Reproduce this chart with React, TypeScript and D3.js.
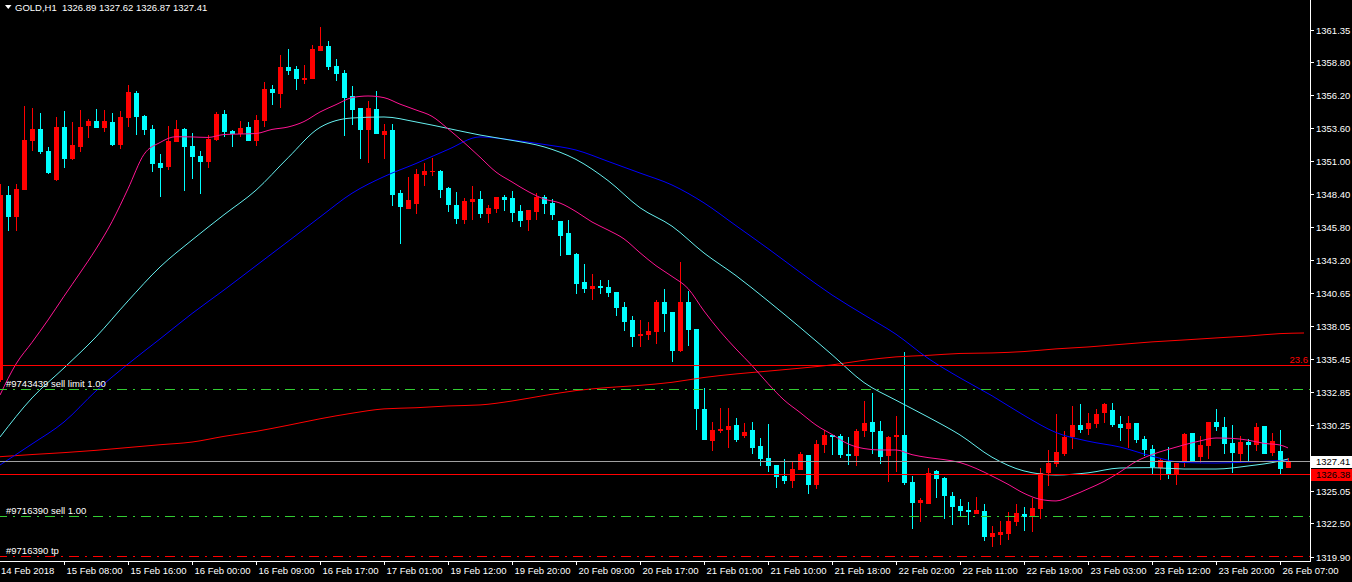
import React, { useEffect, useRef } from 'react';
import * as d3 from 'd3';

const W = 1352;
const H = 582;

// OHLC per H1 bar (bar 0 = leftmost visible)
const opens = [1333.78,1348.33,1346.63,1348.73,1352.60,1353.52,1351.79,1349.54,1353.68,1351.19,1352.13,1353.78,1354.15,1353.63,1354.08,1352.27,1354.39,1356.36,1354.55,1353.52,1350.85,1350.54,1352.50,1353.52,1352.19,1351.40,1350.93,1352.66,1354.70,1353.37,1353.13,1353.68,1352.58,1354.15,1356.67,1356.28,1358.40,1358.24,1357.38,1357.46,1359.66,1360.05,1358.48,1357.93,1356.12,1355.18,1353.45,1355.10,1353.05,1353.45,1348.49,1347.23,1347.63,1349.91,1350.14,1350.22,1348.88,1347.55,1346.37,1347.78,1348.02,1346.84,1347.23,1348.18,1348.10,1347.08,1346.37,1347.00,1348.18,1347.70,1346.29,1345.35,1343.69,1341.49,1340.94,1341.18,1341.10,1340.70,1339.52,1338.50,1337.24,1337.32,1337.56,1339.92,1339.13,1336.06,1339.92,1337.79,1331.50,1328.99,1329.77,1329.85,1330.24,1329.38,1329.85,1328.59,1327.65,1327.10,1326.23,1325.84,1326.70,1327.88,1325.53,1328.67,1329.46,1329.38,1327.96,1327.81,1329.77,1330.48,1329.77,1327.81,1329.30,1329.46,1325.76,1324.11,1324.03,1326.63,1326.08,1324.66,1323.87,1323.56,1323.24,1323.48,1321.44,1321.59,1321.67,1322.61,1323.24,1323.01,1323.64,1326.47,1327.18,1327.96,1329.30,1330.24,1329.93,1330.32,1331.19,1331.42,1330.32,1329.93,1330.40,1329.14,1328.36,1326.86,1327.41,1326.39,1327.33,1329.61,1327.73,1328.59,1330.48,1330.09,1328.83,1327.96,1328.91,1328.67,1330.17,1328.04,1328.20,1326.89];
const highs = [1349.20,1349.07,1349.20,1355.33,1355.18,1354.78,1352.11,1354.47,1354.94,1354.08,1355.02,1354.31,1355.10,1355.02,1354.78,1354.94,1356.99,1356.51,1354.63,1353.84,1351.56,1353.76,1354.23,1353.60,1353.21,1351.79,1353.05,1354.86,1355.02,1353.45,1354.15,1354.08,1354.63,1357.22,1356.99,1359.34,1359.82,1358.48,1358.56,1360.13,1361.55,1360.45,1359.03,1358.16,1356.91,1355.20,1355.73,1356.51,1353.92,1353.92,1348.73,1349.75,1350.38,1350.85,1351.24,1350.30,1348.96,1348.57,1348.10,1349.04,1348.65,1347.55,1348.20,1348.33,1348.65,1347.55,1347.17,1348.49,1348.33,1348.02,1346.31,1346.37,1343.77,1342.91,1342.12,1341.65,1341.65,1340.72,1339.92,1338.82,1338.50,1338.35,1340.08,1340.94,1339.15,1343.06,1340.78,1337.80,1333.15,1330.48,1331.58,1331.58,1330.79,1330.40,1330.48,1329.22,1330.32,1327.12,1327.57,1327.41,1328.12,1327.90,1329.06,1329.85,1329.48,1329.54,1329.30,1329.93,1332.13,1332.76,1330.56,1329.38,1330.95,1335.99,1326.23,1324.50,1326.86,1326.70,1326.15,1324.97,1324.42,1324.19,1324.58,1324.03,1322.30,1322.69,1323.40,1324.03,1323.79,1324.50,1326.86,1328.28,1331.11,1329.77,1331.74,1331.90,1331.19,1331.50,1331.98,1331.98,1330.95,1330.95,1330.42,1329.38,1328.67,1327.65,1328.51,1327.27,1329.61,1329.63,1329.38,1330.50,1331.50,1330.87,1330.24,1329.38,1329.14,1330.40,1330.19,1329.61,1329.85,1327.62];
const lows = [1333.63,1345.53,1345.53,1348.70,1351.82,1351.53,1349.99,1349.46,1350.48,1351.09,1351.74,1352.84,1353.60,1353.31,1352.19,1351.98,1353.68,1353.05,1353.05,1350.14,1348.20,1350.30,1352.48,1348.65,1349.59,1348.41,1350.46,1352.58,1352.90,1352.11,1352.90,1352.55,1352.19,1353.68,1355.41,1355.18,1357.77,1356.59,1357.06,1357.44,1359.64,1358.16,1357.30,1352.97,1353.84,1351.16,1350.85,1353.10,1351.16,1347.47,1344.48,1347.20,1346.84,1349.04,1349.83,1348.10,1347.00,1346.05,1346.05,1346.37,1346.52,1346.13,1346.92,1347.08,1346.21,1345.82,1345.50,1346.37,1346.84,1346.37,1343.54,1343.59,1340.55,1340.63,1340.08,1340.55,1340.31,1338.82,1337.64,1336.38,1336.38,1336.93,1336.61,1337.56,1335.20,1335.99,1336.46,1329.85,1329.05,1328.20,1329.61,1328.43,1328.91,1329.22,1327.96,1327.02,1326.55,1325.29,1325.60,1325.29,1326.68,1324.82,1325.21,1328.04,1327.88,1327.65,1327.10,1327.02,1329.30,1327.96,1327.18,1325.76,1326.55,1325.53,1322.06,1322.61,1324.01,1324.50,1322.85,1322.38,1323.09,1322.38,1323.22,1321.12,1320.65,1320.81,1321.20,1322.30,1321.91,1321.83,1322.85,1325.45,1326.94,1327.81,1328.36,1329.61,1329.46,1330.01,1330.40,1330.09,1328.99,1328.43,1328.83,1327.81,1326.39,1325.92,1326.00,1325.53,1326.94,1327.31,1327.25,1327.57,1329.77,1327.96,1326.47,1327.25,1327.33,1328.20,1327.94,1327.81,1326.39,1326.87];
const closes = [1348.33,1346.63,1348.81,1352.66,1353.52,1351.74,1350.09,1353.68,1351.19,1352.27,1353.68,1354.15,1353.63,1354.15,1352.27,1354.47,1356.43,1354.47,1353.45,1350.77,1350.46,1352.58,1353.52,1352.11,1351.32,1350.93,1352.74,1354.70,1353.29,1353.13,1353.60,1352.58,1354.23,1356.67,1356.36,1358.40,1358.09,1357.46,1357.54,1359.82,1360.05,1358.40,1357.85,1355.96,1355.02,1353.45,1355.18,1353.13,1353.39,1348.33,1347.39,1347.94,1349.99,1350.22,1350.22,1348.73,1347.55,1346.45,1347.86,1348.02,1346.84,1347.31,1348.18,1347.94,1346.92,1346.29,1347.15,1348.18,1347.63,1346.76,1345.11,1343.61,1341.33,1340.94,1341.18,1341.02,1340.63,1339.45,1338.35,1337.17,1337.40,1337.64,1339.92,1338.97,1336.06,1339.92,1337.72,1331.50,1329.06,1329.85,1329.93,1330.17,1329.06,1329.69,1328.43,1327.57,1327.02,1326.15,1325.84,1326.78,1327.96,1325.53,1328.75,1329.46,1329.30,1327.88,1327.81,1329.77,1330.40,1329.69,1327.73,1329.30,1329.46,1325.68,1324.11,1324.35,1326.47,1326.00,1324.66,1323.79,1323.48,1323.40,1323.56,1321.44,1321.75,1321.83,1322.69,1323.32,1323.01,1323.72,1326.47,1327.25,1328.12,1329.30,1330.24,1329.85,1330.40,1331.11,1331.90,1330.24,1330.01,1330.40,1329.06,1328.28,1326.94,1327.49,1326.39,1327.25,1329.54,1327.33,1328.67,1330.48,1330.09,1328.75,1328.04,1328.91,1328.67,1330.09,1327.96,1328.99,1326.78,1327.41];

// Moving averages (sampled): fast every 2 bars, others every 4 bars
const maFast = [1332.60,1335.04,1336.74,1338.50,1340.37,1342.20,1344.09,1346.23,1348.82,1351.53,1352.46,1352.92,1352.90,1352.86,1353.09,1353.13,1353.17,1353.49,1353.68,1354.11,1354.86,1355.44,1355.99,1356.12,1355.99,1355.48,1355.02,1354.52,1353.54,1352.46,1351.31,1350.14,1349.36,1348.61,1348.02,1347.70,1347.03,1346.21,1345.58,1344.88,1343.79,1342.77,1341.93,1340.98,1339.21,1337.62,1336.22,1334.92,1333.50,1332.21,1331.23,1330.24,1329.50,1328.76,1328.39,1328.28,1328.28,1327.91,1327.68,1327.52,1327.29,1326.83,1326.23,1325.58,1324.87,1324.40,1324.27,1324.68,1325.22,1325.80,1326.55,1327.37,1327.92,1328.32,1328.68,1328.99,1329.22,1329.19,1329.05,1328.80,1328.67,1328.44];
const maMid = [1329.30,1332.37,1334.73,1337.17,1340.00,1342.67,1344.79,1346.78,1348.71,1351.26,1353.65,1354.39,1354.47,1354.08,1353.57,1353.05,1352.63,1352.12,1351.13,1349.47,1347.33,1345.88,1343.77,1341.99,1340.00,1337.92,1335.77,1333.58,1332.19,1330.87,1329.46,1327.71,1326.63,1326.31,1326.48,1326.86,1326.89,1326.78,1326.78,1327.02,1327.41,1327.57];
const maSlow = [1327.10,1328.75,1330.48,1332.92,1335.04,1337.01,1339.01,1340.86,1342.77,1344.68,1346.60,1348.47,1349.78,1350.81,1351.91,1352.90,1352.66,1352.31,1351.87,1350.98,1350.06,1349.12,1347.71,1345.92,1344.12,1342.26,1340.47,1338.91,1337.38,1335.49,1333.95,1332.54,1331.00,1329.65,1328.97,1328.51,1327.79,1327.29,1327.25,1327.33,1327.45,1327.49];
const maLong = [1327.75,1327.92,1328.07,1328.25,1328.47,1328.69,1328.90,1329.35,1329.74,1330.22,1330.73,1331.17,1331.51,1331.60,1331.74,1331.82,1332.13,1332.56,1332.95,1333.19,1333.36,1333.60,1333.98,1334.26,1334.48,1334.71,1334.97,1335.33,1335.60,1335.72,1335.87,1335.91,1336.02,1336.23,1336.38,1336.58,1336.78,1336.93,1337.09,1337.24,1337.43,1337.48];

const timeLabels = ["14 Feb 2018","15 Feb 08:00","15 Feb 16:00","16 Feb 00:00","16 Feb 09:00","16 Feb 17:00","17 Feb 01:00","19 Feb 12:00","19 Feb 20:00","20 Feb 09:00","20 Feb 17:00","21 Feb 01:00","21 Feb 10:00","21 Feb 18:00","22 Feb 02:00","22 Feb 11:00","22 Feb 19:00","23 Feb 03:00","23 Feb 12:00","23 Feb 20:00","26 Feb 07:00"];
const priceTicks = [1361.35,1358.80,1356.20,1353.60,1351.00,1348.40,1345.80,1343.20,1340.65,1338.05,1335.45,1332.85,1330.25,1325.05,1322.50,1319.90];

const header = "GOLD,H1  1326.89 1327.62 1326.87 1327.41";
const bidPrice = 1327.41;
const redLevel = 1326.38;
const fibLevel = 1334.96;
const fibLabel = "23.6";
const orderLines = [
  { price: 1333.05, label: "#9743439 sell limit 1.00", color: "#32CD32" },
  { price: 1323.09, label: "#9716390 sell 1.00", color: "#32CD32" },
  { price: 1319.94, label: "#9716390 tp", color: "#FF0000" },
];

const FONT = "'Liberation Sans', Arial, sans-serif";

export default function App() {
  const ref = useRef<SVGSVGElement>(null);
  useEffect(() => {
    const svg = d3.select(ref.current);
    svg.selectAll('*').remove();
    const plotR = 1310;
    const plotB = 561;
    const x = d3.scaleLinear().domain([0, 161]).range([0, 1288]);
    const y = d3.scaleLinear().domain([1319.90, 1361.35]).range([556.5, 29.5]);

    svg.append('rect').attr('width', W).attr('height', H).attr('fill', '#000');
    const defs = svg.append('defs');
    defs.append('clipPath').attr('id', 'plotclip').append('rect')
      .attr('x', 0).attr('y', 0).attr('width', plotR).attr('height', plotB);
    const plot = svg.append('g').attr('clip-path', 'url(#plotclip)');

    // candles
    const bars = d3.range(opens.length);
    const cg = plot.append('g').attr('shape-rendering', 'crispEdges');
    bars.forEach((i) => {
      const o = opens[i], h = highs[i], l = lows[i], c = closes[i];
      const col = c >= o ? '#FF0000' : '#00FFFF';
      const cx = Math.round(x(i));
      const yh = Math.round(y(h)), yl = Math.round(y(l));
      cg.append('rect').attr('x', cx).attr('y', yh).attr('width', 1)
        .attr('height', Math.max(1, yl - yh)).attr('fill', col);
      const yt = Math.round(y(Math.max(o, c))), yb = Math.round(y(Math.min(o, c)));
      cg.append('rect').attr('x', cx - 2).attr('y', yt).attr('width', 5)
        .attr('height', Math.max(1, yb - yt)).attr('fill', col);
    });

    // moving averages
    const drawMA = (vals: number[], idx: number[], color: string) => {
      const line = d3.line<number>().x((_, j) => x(idx[j])).y((v) => y(v)).curve(d3.curveMonotoneX);
      plot.append('path').attr('d', line(vals) as string).attr('fill', 'none')
        .attr('stroke', color).attr('stroke-width', 1);
    };
    const idx2 = d3.range(0, 161, 2).concat([161]);
    const idx4 = d3.range(0, 161, 4).concat([161]);
    const idx4L = d3.range(0, 161, 4).concat([163]);
    drawMA(maLong, idx4L, '#FF0000');
    drawMA(maSlow, idx4, '#0000FF');
    drawMA(maMid, idx4, '#66F0F0');
    drawMA(maFast, idx2, '#FF1493');

    // horizontal levels
    const hy = (p: number) => Math.round(y(p)) + 0.5;
    plot.append('line').attr('x1', 0).attr('x2', plotR).attr('y1', hy(fibLevel)).attr('y2', hy(fibLevel))
      .attr('stroke', '#FF0000');
    plot.append('line').attr('x1', 0).attr('x2', plotR).attr('y1', hy(bidPrice)).attr('y2', hy(bidPrice))
      .attr('stroke', '#A0A0A0');
    plot.append('line').attr('x1', 0).attr('x2', plotR).attr('y1', hy(redLevel)).attr('y2', hy(redLevel))
      .attr('stroke', '#FF0000');
    orderLines.forEach((ol) => {
      plot.append('line').attr('x1', 0).attr('x2', plotR).attr('y1', hy(ol.price)).attr('y2', hy(ol.price))
        .attr('stroke', ol.color).attr('stroke-dasharray', '10,6,2,6').attr('stroke-dashoffset', 3);
      plot.append('text').attr('x', 6).attr('y', hy(ol.price) - 2.5).text(ol.label)
        .attr('fill', '#FFFFFF').attr('font-family', FONT).attr('font-size', 9.5);
    });
    plot.append('text').attr('x', 1308).attr('y', hy(fibLevel) - 2.5).attr('text-anchor', 'end')
      .text(fibLabel).attr('fill', '#FF0000').attr('font-family', FONT).attr('font-size', 9.5);

    // axes
    const ax = svg.append('g').attr('shape-rendering', 'crispEdges');
    ax.append('line').attr('x1', plotR + 0.5).attr('x2', plotR + 0.5).attr('y1', 0).attr('y2', plotB + 1)
      .attr('stroke', '#FFFFFF');
    ax.append('line').attr('x1', 0).attr('x2', plotR + 1).attr('y1', plotB + 0.5).attr('y2', plotB + 0.5)
      .attr('stroke', '#FFFFFF');
    priceTicks.forEach((p) => {
      const yy = hy(p);
      ax.append('line').attr('x1', plotR).attr('x2', plotR + 4).attr('y1', yy).attr('y2', yy).attr('stroke', '#FFFFFF');
      svg.append('text').attr('x', plotR + 6).attr('y', yy + 3.5).text(p.toFixed(2))
        .attr('fill', '#FFFFFF').attr('font-family', FONT).attr('font-size', 9.5);
    });
    timeLabels.forEach((t, j) => {
      const tx = Math.round(x(j * 8)) + 0.5;
      if (j > 0) ax.append('line').attr('x1', tx).attr('x2', tx).attr('y1', plotB).attr('y2', plotB + 4).attr('stroke', '#FFFFFF');
      svg.append('text').attr('x', j === 0 ? 1 : tx + 2).attr('y', 574).text(t)
        .attr('fill', '#FFFFFF').attr('font-family', FONT).attr('font-size', 9.5);
    });

    // price boxes
    const boxes = [
      { p: bidPrice, bg: '#FFFFFF', fg: '#000000' },
      { p: redLevel, bg: '#FF0000', fg: '#000000' },
    ];
    boxes.forEach((b) => {
      const yy = hy(b.p);
      svg.append('rect').attr('x', plotR + 1).attr('y', Math.round(yy - 6)).attr('width', W - plotR - 1).attr('height', 12)
        .attr('fill', b.bg).attr('shape-rendering', 'crispEdges');
      svg.append('text').attr('x', plotR + 6).attr('y', yy + 3.5).text(b.p.toFixed(2))
        .attr('fill', b.fg).attr('font-family', FONT).attr('font-size', 9.5);
    });

    // header
    svg.append('path').attr('d', 'M5,5 L11.5,5 L8.25,9 Z').attr('fill', '#FFFFFF');
    svg.append('text').attr('x', 15).attr('y', 11).text(header).attr('xml:space', 'preserve')
      .style('white-space', 'pre').attr('fill', '#FFFFFF').attr('font-family', FONT).attr('font-size', 9.5);
  }, []);
  return (
    <svg ref={ref} width={W} height={H}
      style={{ position: 'absolute', left: 0, top: 0, background: '#000', display: 'block' }} />
  );
}
